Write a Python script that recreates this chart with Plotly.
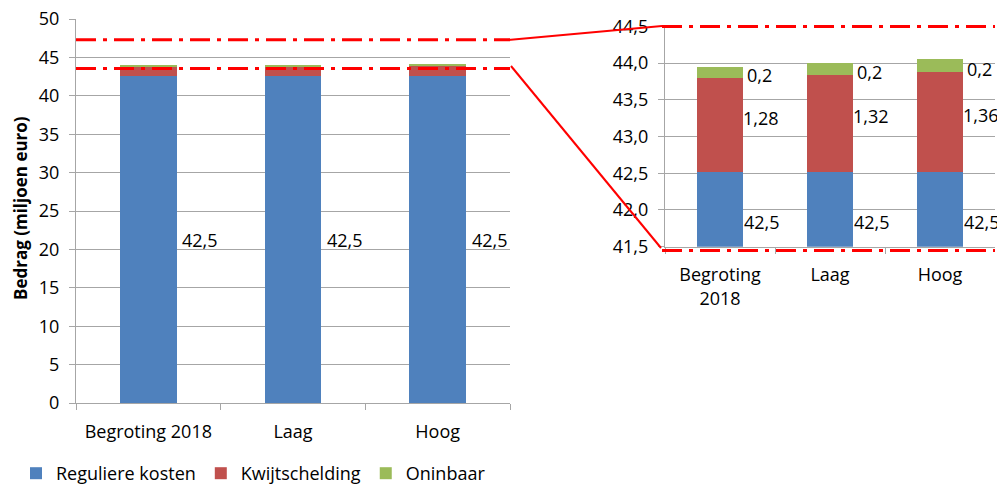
import plotly.graph_objects as go

categories = ["Begroting 2018", "Laag", "Hoog"]
categories_zoom = ["Begroting<br>2018", "Laag", "Hoog"]
reguliere = [42.52, 42.52, 42.52]
kwijtschelding = [1.28, 1.32, 1.36]
oninbaar = [0.15, 0.16, 0.17]
lbl_reguliere = ["42,5", "42,5", "42,5"]
lbl_kwijt = ["1,28", "1,32", "1,36"]
lbl_onin = ["0,2", "0,2", "0,2"]
series_names = ["Reguliere kosten", "Kwijtschelding", "Oninbaar"]
colors = ["#4F81BD", "#C0504D", "#9BBB59"]

OFF = 8  # page body margin
W, H = 1005 - OFF, 484 - OFF
FONT = "Open Sans"
FS = 18
GRID = "#A6A6A6"

def px_x(p):
    return (p - OFF) / W

def px_y(p):
    return 1 - (p - OFF) / H

# domains (pixel-derived, reference coordinates)
L_x = [px_x(76), px_x(510)]
L_y = [px_y(403), px_y(19)]
R_x = [px_x(665), px_x(995)]
R_y = [px_y(246.7), px_y(26.3)]
L_range = [0, 50]
R_range = [41.5, 44.5]

fig = go.Figure()
series = [reguliere, kwijtschelding, oninbaar]
for name, vals, col in zip(series_names, series, colors):
    fig.add_trace(go.Bar(x=categories, y=vals, name=name, marker_color=col,
                         width=0.39, xaxis="x", yaxis="y", legendgroup=name,
                         marker_line_width=0))
    fig.add_trace(go.Bar(x=categories_zoom, y=vals, name=name, marker_color=col,
                         width=0.41, xaxis="x2", yaxis="y2", legendgroup=name,
                         showlegend=False, marker_line_width=0))

ann = []
tf = dict(family=FONT, size=FS, color="black")
# left labels (regular costs only)
for c, v, t in zip(categories, reguliere, lbl_reguliere):
    ann.append(dict(x=c, y=v / 2, xref="x", yref="y", text=t, showarrow=False,
                    xanchor="left", xshift=32, font=tf))
# right labels
for i, c in enumerate(categories_zoom):
    b = reguliere[i]
    r = b + kwijtschelding[i]
    g = r + oninbaar[i]
    ann.append(dict(x=c, y=(R_range[0] + b) / 2, xref="x2", yref="y2", text=lbl_reguliere[i],
                    showarrow=False, xanchor="left", xshift=22, yshift=-13, font=tf))
    ann.append(dict(x=c, y=(b + r) / 2, xref="x2", yref="y2", text=lbl_kwijt[i],
                    showarrow=False, xanchor="left", xshift=21, yshift=7, font=tf))
    ann.append(dict(x=c, y=(r + g) / 2, xref="x2", yref="y2", text=lbl_onin[i],
                    showarrow=False, xanchor="left", xshift=25, yshift=-3, font=tf))

ann.append(dict(x=px_x(20), y=px_y(208), xref="paper", yref="paper",
                xanchor="center", yanchor="middle",
                text="<b>Bedrag (miljoen euro)</b>", textangle=-90, showarrow=False,
                font=dict(family=FONT, size=17, color="black")))

shapes = []
red = "#FF0000"
dd = "20px,7px,4px,7px"
# horizontal dash-dot lines
for y in [47.3, 43.55]:
    yp = L_y[0] + (y - L_range[0]) / (L_range[1] - L_range[0]) * (L_y[1] - L_y[0])
    shapes.append(dict(type="line", xref="paper", yref="paper", x0=L_x[0], x1=L_x[1],
                       y0=yp, y1=yp, line=dict(color=red, width=3, dash=dd)))
for yp in [px_y(26.5), px_y(250.5)]:
    shapes.append(dict(type="line", xref="paper", yref="paper", x0=px_x(662), x1=R_x[1],
                       y0=yp, y1=yp, line=dict(color=red, width=3, dash=dd)))
# connecting lines
shapes.append(dict(type="line", xref="paper", yref="paper", x0=px_x(508), y0=px_y(40),
                   x1=px_x(662), y1=px_y(26), line=dict(color=red, width=2)))
shapes.append(dict(type="line", xref="paper", yref="paper", x0=px_x(511), y0=px_y(66),
                   x1=px_x(661), y1=px_y(248), line=dict(color=red, width=2)))

axis_common = dict(showline=True, linecolor=GRID, linewidth=1.3, ticks="outside",
                   tickcolor=GRID, ticklen=6, automargin=False, ticklabeloverflow="allow",
                   tickfont=dict(family=FONT, size=FS, color="black"))

fig.update_layout(
    width=W, height=H, margin=dict(l=0, r=0, t=0, b=0, autoexpand=False),
    paper_bgcolor="white", plot_bgcolor="white",
    barmode="stack", separators=",.",
    font=dict(family=FONT, size=FS, color="black"),
    xaxis=dict(domain=L_x, anchor="y", type="category", tickson="boundaries",
               range=[-0.5, 2.5], showgrid=False, ticklabelstandoff=12, **axis_common),
    yaxis=dict(domain=L_y, anchor="x", range=L_range, dtick=5, showgrid=True,
               gridcolor=GRID, gridwidth=1.3, ticklabelstandoff=6, **axis_common),
    xaxis2=dict(domain=R_x, anchor="y2", type="category", tickson="boundaries",
                range=[-0.5, 2.5], showgrid=False, ticklabelstandoff=12, **axis_common),
    yaxis2=dict(domain=R_y, anchor="x2", range=R_range, dtick=0.5, tickformat=".1f",
                showgrid=True, gridcolor=GRID, gridwidth=1.3, ticklabelstandoff=6, **axis_common),
    showlegend=True,
    legend=dict(orientation="h", x=px_x(16), y=px_y(455), xanchor="left", yanchor="top",
                font=dict(family=FONT, size=FS, color="black"), itemwidth=30,
                traceorder="normal", bgcolor="rgba(0,0,0,0)"),
    annotations=ann, shapes=shapes,
)

fig.write_html("out.html")
